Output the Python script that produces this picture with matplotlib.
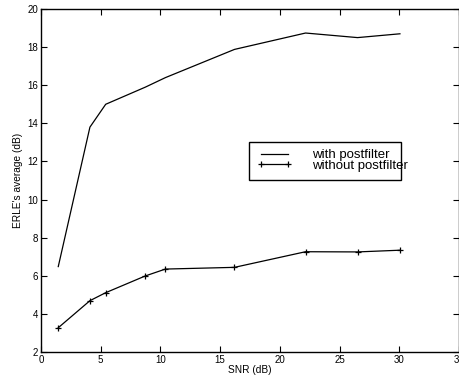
import matplotlib
matplotlib.use("Agg")
import matplotlib.pyplot as plt
from matplotlib.patches import Rectangle

plt.rcParams['font.family'] = ['Liberation Sans', 'DejaVu Sans']

snr = [1.45, 4.1, 5.42, 8.74, 10.42, 16.2, 22.15, 26.5, 30.05]
erle_with = [6.48, 13.8, 15.0, 15.9, 16.4, 17.88, 18.74, 18.5, 18.7]
erle_without = [3.27, 4.69, 5.11, 5.99, 6.35, 6.44, 7.26, 7.25, 7.34]

fig = plt.figure(figsize=(4.6, 3.76), dpi=100)
ax = fig.add_axes([0.089, 0.064, 0.909, 0.912])

ax.plot(snr, erle_with, color='black', linewidth=0.9, label='with postfilter')
ax.plot(snr, erle_without, color='black', linewidth=0.9, marker='+',
        markersize=4.5, markeredgewidth=0.9, label='without postfilter')

ax.set_xlim(0, 35)
ax.set_ylim(2, 20)
ax.set_xticks(range(0, 36, 5))
ax.set_yticks(range(2, 21, 2))
ax.tick_params(direction='in', top=True, right=True, labelsize=7,
               length=4, width=0.8, pad=2)
for s in ax.spines.values():
    s.set_linewidth(1.0)

ax.set_xlabel('SNR (dB)', fontsize=7.3, labelpad=0)
ax.set_ylabel("ERLE's average (dB)", fontsize=7.3, labelpad=3)

# legend entries without frame, frame drawn separately (text overflows it, as in the original)
leg = ax.legend(loc='upper left', bbox_to_anchor=(0.517, 0.592), fontsize=9.5,
                frameon=False, borderaxespad=0, borderpad=0, numpoints=2,
                handlelength=2.65, handletextpad=1.5, labelspacing=-0.1)
ax.add_patch(Rectangle((0.498, 0.5015), 0.3625, 0.1115, transform=ax.transAxes,
                       fill=False, edgecolor='black', linewidth=1.0, zorder=5))

fig.savefig('out.png', dpi=100)
